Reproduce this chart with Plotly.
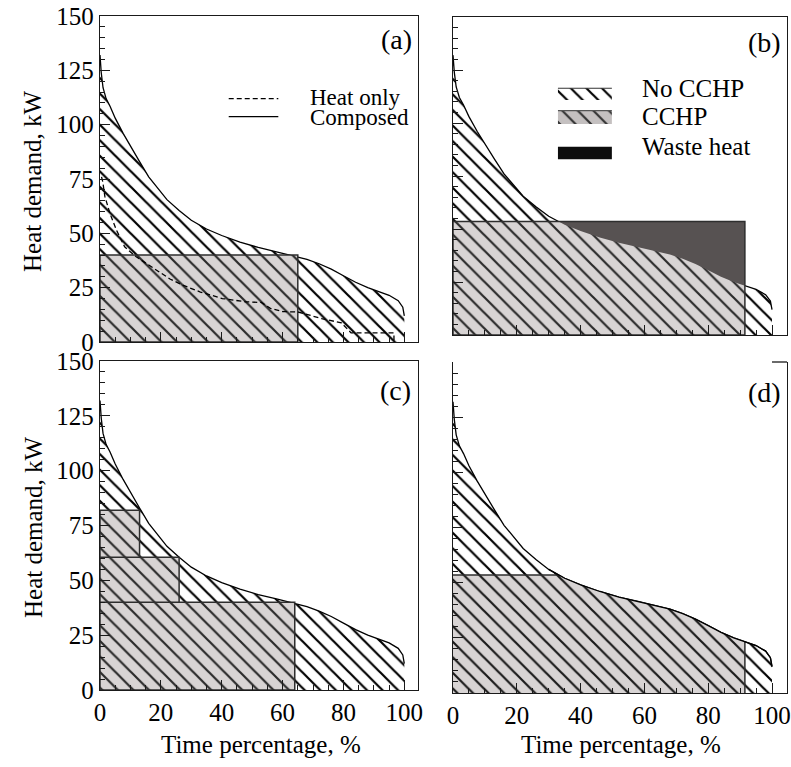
import numpy as np
import plotly.graph_objects as go

# ---------------- data ----------------
time_pct = [0, 0.4, 1, 2, 3.3, 5, 7.6, 10, 13, 16, 19, 22, 26, 30, 35, 40, 46, 52,
            58, 64, 68, 72, 76, 80, 84, 88, 92, 95, 98, 99.5, 100]
composed_kw = [132, 124, 117, 112, 108.5, 103, 96, 90, 83, 76, 70.5, 65.5, 60.5, 56,
               52, 49, 46, 43.5, 41.5, 39.5, 38, 36, 33.5, 30.5, 27.5, 25, 23, 21.5,
               19, 16, 12]

heat_only_pct = [0.5, 0.9, 1.6, 3.3, 5.4, 8.1, 11.9, 15.2, 18.5, 23, 27.1, 33, 40.2,
                 47.8, 53, 56, 60, 65.1, 72.8, 79.3, 82.5, 96.6, 96.6]
heat_only_kw = [76, 73.8, 67, 59, 51.5, 43.8, 39.2, 36.2, 33, 29, 26.2, 23, 20,
                18.5, 18.2, 15.5, 14, 13.8, 10.8, 8.8, 4.2, 4.2, 0]

a_cchp_width, a_cchp_level = 65, 40
b_cchp_width, b_cchp_level = 91.5, 53.5
c_cchp_widths = [64, 26, 13]
c_cchp_levels = [40, 60.5, 82]
d_cchp_width, d_cchp_level = 91.5, 53.5

x_ticks = [0, 20, 40, 60, 80, 100]
y_ticks = [0, 25, 50, 75, 100, 125, 150]

# ---------------- styles ----------------
FONT = "Liberation Serif"
AX = "#1a1a1a"
GRAY = "#d8d4d4"
DARK = "#575252"
HATCH_DARK = "#2a2a2a"
W, H = 791, 767

fig = go.Figure()
cx = np.array(time_pct, dtype=float)
cy = np.array(composed_kw, dtype=float)


def hatch(bg, fg):
    return dict(shape="\\", size=11, solidity=0.2, bgcolor=bg, fgcolor=fg,
                fgopacity=1, fillmode="overlay")


def poly(xs, ys, ax, bg, fg=None, lc="rgba(0,0,0,0)", lw=0, pattern=True):
    kw = dict(x=list(xs), y=list(ys), xaxis="x" + ax, yaxis="y" + ax, mode="lines",
              fill="toself", fillcolor=bg, line=dict(color=lc, width=lw),
              hoverinfo="skip", showlegend=False)
    if pattern:
        kw["fillpattern"] = hatch(bg, fg)
    fig.add_trace(go.Scatter(**kw))


def line(xs, ys, ax, color="black", width=1.3, dash=None):
    fig.add_trace(go.Scatter(x=list(xs), y=list(ys), xaxis="x" + ax, yaxis="y" + ax,
                             mode="lines", line=dict(color=color, width=width, dash=dash),
                             hoverinfo="skip", showlegend=False))


def rect_outline(x0, x1, y0, y1, ax, color="#2e2e2e", width=1.5):
    line([x0, x1, x1, x0, x0], [y0, y0, y1, y1, y0], ax, color=color, width=width)


axes_ids = ["", "2", "3", "4"]

# No-CCHP area (below the composed curve) in every panel
for ax in axes_ids:
    poly(list(cx) + [100, 0], list(cy) + [0, 0], ax, "white", "black")
    line(cx, cy, ax)

# ---- (a)
poly([0, a_cchp_width, a_cchp_width, 0], [0, 0, a_cchp_level, a_cchp_level], "",
     GRAY, HATCH_DARK)
rect_outline(0, a_cchp_width, 0, a_cchp_level, "")
line(heat_only_pct, heat_only_kw, "", width=1.3, dash="5px,3px")

# ---- (b)
poly([0, b_cchp_width, b_cchp_width, 0], [0, 0, b_cchp_level, b_cchp_level], "2",
     GRAY, HATCH_DARK)
x_cross_b = float(np.interp(b_cchp_level, cy[::-1], cx[::-1]))
inside = (cx > x_cross_b) & (cx < b_cchp_width)
wx = [x_cross_b] + list(cx[inside]) + [b_cchp_width]
wy = [b_cchp_level] + list(cy[inside]) + [float(np.interp(b_cchp_width, cx, cy))]
poly(wx + [b_cchp_width], wy + [b_cchp_level], "2", DARK, pattern=False)
rect_outline(0, b_cchp_width, 0, b_cchp_level, "2")

# ---- (c) stacked CCHP units
lower = 0
for wdt, lev in zip(c_cchp_widths, c_cchp_levels):
    poly([0, wdt, wdt, 0], [lower, lower, lev, lev], "3", GRAY, HATCH_DARK)
    rect_outline(0, wdt, lower, lev, "3")
    lower = lev

# ---- (d) CCHP area clipped by the demand curve
x_cross_d = float(np.interp(d_cchp_level, cy[::-1], cx[::-1]))
mid = (cx > x_cross_d) & (cx < d_cchp_width)
dx = [0, x_cross_d] + list(cx[mid]) + [d_cchp_width]
dy = [d_cchp_level, d_cchp_level] + list(cy[mid]) + [float(np.interp(d_cchp_width, cx, cy))]
poly(dx + [d_cchp_width, 0], dy + [0, 0], "4", GRAY, "#1a1a1a")
line([0, x_cross_d], [d_cchp_level, d_cchp_level], "4", color="#2e2e2e", width=1.5)
line([d_cchp_width, d_cchp_width], [0, dy[-1]], "4", color="#2e2e2e", width=1.5)
line(cx[cx >= x_cross_d - 5], cy[cx >= x_cross_d - 5], "4")

# ---------------- legends drawn in panel coordinates ----------------
# (a)
line([42.3, 58.6], [112, 112], "", width=1.3, dash="5px,3px")
line([42.3, 58.6], [103.7, 103.7], "", width=1.3)
# (b)
poly([32.9, 49.8, 49.8, 32.9], [110.8, 110.8, 116.4, 116.4], "2", "white", "black")
line([32.9, 49.8], [116.4, 116.4], "2", color="#333", width=1.2)
poly([32.9, 49.8, 49.8, 32.9], [99.5, 99.5, 105.8, 105.8], "2", "#c4c0c0", "#333")
line([32.9, 49.8], [105.8, 105.8], "2", color="#555", width=1.2)
poly([32.9, 49.8, 49.8, 32.9], [82.9, 82.9, 88.8, 88.8], "2", "#0d0d0d", pattern=False)

annotations = []


def txt(text, x, y, xref, yref, size=24, xanchor="left", yanchor="middle", angle=0):
    annotations.append(dict(text=text, x=x, y=y, xref=xref, yref=yref, showarrow=False,
                            xanchor=xanchor, yanchor=yanchor, textangle=angle,
                            font=dict(family=FONT, size=size, color="black")))


txt("Heat only", 68.4, 112.5, "x", "y", size=23)
txt("Composed", 68.4, 103.2, "x", "y", size=23)
txt("No CCHP", 58.6, 116.5, "x2", "y2", size=25)
txt("CCHP", 58.6, 103, "x2", "y2", size=25)
txt("Waste heat", 58.6, 89, "x2", "y2", size=25)

for lab, px, py in [("(a)", 414, 40), ("(b)", 783, 43), ("(c)", 413, 390), ("(d)", 783, 392)]:
    txt(lab, px / W, 1 - py / H, "paper", "paper", size=28, xanchor="right")

for py in (181, 527):
    txt("Heat demand, kW", 33 / W, 1 - py / H, "paper", "paper", size=25,
        xanchor="center", angle=-90)
for px in (261, 621):
    txt("Time percentage, %", px / W, 1 - 744 / H, "paper", "paper", size=25,
        xanchor="center")

# ---------------- axes ----------------
LEFT = [100 / W, 418 / W]
RIGHT = [453 / W, 787 / W]
DOM_Y = {"": [1 - 342 / H, 1 - 16 / H], "2": [1 - 335 / H, 1 - 17 / H],
         "3": [1 - 690 / H, 1 - 361 / H], "4": [1 - 693 / H, 1 - 362 / H]}
DOM_X = {"": LEFT, "2": RIGHT, "3": LEFT, "4": RIGHT}
X_RANGE = {"": [0, 104.5], "2": [0, 104.7], "3": [0, 104.5], "4": [0, 104.7]}

common = dict(showline=True, linecolor=AX, linewidth=1.3, ticks="inside", ticklen=10,
              tickwidth=1.2, tickcolor=AX, showgrid=False, zeroline=False,
              automargin=False,
              tickfont=dict(family=FONT, size=25, color="black"),
              minor=dict(ticks="inside", ticklen=5, dtick=5, tickcolor=AX, tickwidth=1.1,
                         showgrid=False))

layout_axes = {}
for ax in axes_ids:
    xa = dict(common, domain=DOM_X[ax], range=X_RANGE[ax], anchor="y" + ax,
              tickvals=x_ticks, ticktext=[str(v) for v in x_ticks],
              showticklabels=ax in ("3", "4"), mirror=(ax != "4"))
    ya = dict(common, domain=DOM_Y[ax], range=[0, 150], anchor="x" + ax,
              tickvals=y_ticks, ticktext=[str(v) for v in y_ticks],
              showticklabels=ax in ("", "3"), mirror=True)
    layout_axes["xaxis" + ax] = xa
    layout_axes["yaxis" + ax] = ya

shapes = [dict(type="line", xref="x4 domain", yref="y4 domain", x0=100 / 104.7, x1=1,
               y0=1, y1=1, line=dict(color=AX, width=1.3))]

fig.update_layout(width=W, height=H, margin=dict(l=0, r=0, t=0, b=0, autoexpand=False),
                  paper_bgcolor="white", plot_bgcolor="white", showlegend=False,
                  annotations=annotations, shapes=shapes, **layout_axes)

fig.write_html("out.html")
